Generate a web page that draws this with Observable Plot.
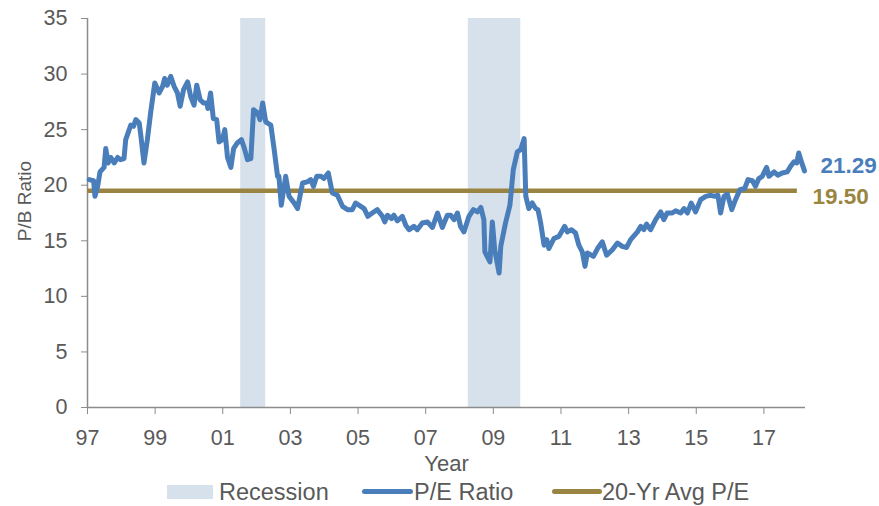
<!DOCTYPE html>
<html><head><meta charset="utf-8">
<script src="https://cdn.jsdelivr.net/npm/d3@7"></script>
<script src="https://cdn.jsdelivr.net/npm/@observablehq/plot@0.6"></script>
<style>
body{margin:0;background:#fff;font-family:"Liberation Sans",Arial,sans-serif;}
#legend{position:relative;width:879px;height:28px;color:#595959;font-size:23.5px;}
#legend span{position:absolute;}
.sw{top:7px;height:14px;}
.ln{top:11px;height:5px;border-radius:3px;}
.tx{top:0;line-height:28px;white-space:nowrap;}
</style></head><body>
<div id="chart"></div>
<div id="legend">
  <span class="sw" style="left:167px;width:46px;background:#d6e1eb"></span>
  <span class="tx" style="left:219px">Recession</span>
  <span class="ln" style="left:362px;width:51px;background:#4a7ebb"></span>
  <span class="tx" style="left:414px">P/E Ratio</span>
  <span class="ln" style="left:552px;width:50px;background:#998541"></span>
  <span class="tx" style="left:602px">20-Yr Avg P/E</span>
</div>
<script>
const years = [1997.05,1997.18,1997.22,1997.30,1997.37,1997.49,1997.54,1997.61,1997.69,1997.79,1997.89,1997.98,
1998.08,1998.13,1998.28,1998.36,1998.43,1998.53,1998.58,1998.67,1998.77,1998.87,1998.99,
1999.12,1999.22,1999.28,1999.36,1999.46,1999.56,1999.66,1999.74,1999.84,1999.96,
2000.05,2000.15,2000.23,2000.33,2000.43,2000.53,2000.56,2000.64,2000.72,2000.82,2000.89,2000.99,
2001.06,2001.14,2001.24,2001.32,2001.43,2001.55,2001.63,2001.73,2001.83,2001.91,
2002.03,2002.10,2002.18,2002.27,2002.42,2002.52,2002.62,2002.66,2002.73,2002.86,2002.96,
2003.11,2003.21,2003.36,2003.50,2003.60,2003.68,2003.78,2003.90,2003.99,
2004.12,2004.24,2004.39,2004.54,2004.69,2004.83,2004.93,
2005.08,2005.18,2005.29,2005.42,2005.57,2005.72,2005.79,2005.87,2005.99,
2006.06,2006.16,2006.31,2006.41,2006.51,2006.65,2006.75,2006.90,
2007.05,2007.20,2007.35,2007.49,2007.64,2007.74,2007.84,2007.94,
2008.03,2008.13,2008.28,2008.41,2008.53,2008.63,2008.72,2008.75,2008.90,2008.97,
2009.04,2009.17,2009.22,2009.36,2009.49,2009.59,2009.71,2009.81,2009.91,2009.96,
2010.05,2010.15,2010.25,2010.32,2010.40,2010.50,2010.58,2010.64,2010.79,2010.94,
2011.11,2011.19,2011.31,2011.43,2011.53,2011.63,2011.71,2011.78,2011.96,
2012.08,2012.22,2012.35,2012.52,2012.67,2012.81,2012.94,
2013.06,2013.26,2013.36,2013.45,2013.53,2013.65,2013.80,2013.95,
2014.04,2014.14,2014.29,2014.39,2014.54,2014.64,2014.74,2014.85,2014.98,
2015.13,2015.28,2015.42,2015.55,2015.64,2015.72,2015.82,2015.92,
2016.05,2016.16,2016.29,2016.43,2016.53,2016.66,2016.75,2016.85,2016.95,
2017.08,2017.15,2017.30,2017.41,2017.54,2017.69,2017.79,2017.89,2017.97,
2018.03,2018.11,2018.20];
const peRatio = [20.5,20.4,19.0,19.9,21.2,21.6,23.3,22.0,22.5,22.0,22.5,22.3,
22.4,24.1,25.4,25.3,25.9,25.6,24.4,22.0,24.1,26.6,29.2,
28.3,28.9,29.6,29.0,29.8,28.9,28.3,27.1,28.6,29.3,
28.0,27.2,29.0,27.7,27.4,27.4,26.9,28.3,26.0,25.9,23.9,24.1,
25.0,22.5,21.6,23.3,23.8,24.1,23.4,22.3,22.4,26.8,
26.5,25.9,27.4,25.7,25.4,23.2,20.8,20.8,18.2,20.8,19.0,
18.4,17.9,20.2,20.3,20.5,19.9,20.8,20.8,20.6,
21.1,19.3,19.1,18.1,17.8,17.8,18.4,
18.1,17.9,17.2,17.5,17.8,17.2,16.7,17.3,17.0,
17.3,16.8,17.2,16.4,16.0,16.3,16.0,16.6,
16.7,16.2,17.5,16.2,17.3,17.3,16.9,17.5,
16.3,15.8,17.2,17.8,17.6,18.0,16.9,14.0,13.1,16.7,
14.2,12.1,14.5,16.6,18.2,21.4,23.0,23.2,24.2,19.0,
17.9,18.4,17.9,17.8,16.6,14.6,15.1,14.3,15.2,15.4,
16.3,15.8,16.0,15.7,14.6,14.0,12.7,13.9,13.6,
14.3,14.9,13.7,14.2,14.8,14.5,14.4,
15.1,15.8,16.3,16.0,16.5,16.0,16.9,17.6,
16.9,17.5,17.5,17.7,17.5,17.9,17.5,18.4,17.6,
18.7,19.0,19.1,19.0,19.1,17.5,19.0,19.2,
17.8,18.7,19.6,19.7,20.5,20.4,19.9,20.6,20.8,
21.6,20.8,21.2,20.9,21.1,21.2,21.7,22.1,22.0,
22.9,22.1,21.29];
const recessionStarts = [2001.53, 2008.26];
const recessionEnds = [2002.27, 2009.81];
const avgPE = 19.50;
const avgStartYear = 1997.0;
const avgEndYear = 2017.99;
const xTicks = [1997,1999,2001,2003,2005,2007,2009,2011,2013,2015,2017];
const yTicks = [0,5,10,15,20,25,30,35];
const xLabel = "Year";
const yLabel = "P/B Ratio";

const blue = "#4a7ebb", gold = "#998541", axisGray = "#8c8c8c", textGray = "#595959";
const data = years.map((y, i) => ({year: y, pe: peRatio[i]}));
const recessions = recessionStarts.map((s, i) => ({x1: s, x2: recessionEnds[i]}));
const last = data[data.length - 1];
const fmt = d => String(d % 100).padStart(2, "0");

const chart = Plot.plot({
  width: 879, height: 478,
  marginLeft: 87, marginRight: 74, marginTop: 18, marginBottom: 71,
  x: {domain: [1997, 2018.23]},
  y: {domain: [0, 35]},
  style: {fontFamily: "'Liberation Sans', Arial, sans-serif", fontSize: "21.5px", color: textGray, background: "#fff"},
  marks: [
    Plot.rect(recessions, {x1: "x1", x2: "x2", fill: "#d6e1eb"}),
    Plot.ruleY([0], {stroke: axisGray, strokeWidth: 1.5}),
    Plot.ruleX([1997], {stroke: axisGray, strokeWidth: 1.5}),
    Plot.axisX({ticks: xTicks, tickFormat: fmt, tickSize: 7, tickPadding: 15, stroke: axisGray, label: null, fill: textGray}),
    Plot.axisY({ticks: yTicks, tickSize: 6, tickPadding: 14, stroke: axisGray, label: null, fill: textGray}),
    Plot.ruleY([avgPE], {x1: avgStartYear, x2: avgEndYear, stroke: gold, strokeWidth: 4.5}),
    Plot.line(data, {x: "year", y: "pe", stroke: blue, strokeWidth: 5, strokeLinejoin: "round", strokeLinecap: "round"}),
    Plot.text([last], {x: "year", y: "pe", text: d => d.pe.toFixed(2), dx: 16, dy: -5, textAnchor: "start", fill: blue, fontWeight: "bold", fontSize: 22.5}),
    Plot.text([avgPE], {x: avgEndYear, y: d => d, text: d => d.toFixed(2), dx: 15, dy: 6, textAnchor: "start", fill: gold, fontWeight: "bold", fontSize: 22.5}),
    Plot.text([xLabel], {frameAnchor: "bottom", dy: 56, lineAnchor: "middle", textAnchor: "middle", fill: textGray, fontSize: 22}),
    Plot.text([yLabel], {frameAnchor: "left", dx: -63, dy: -12, rotate: -90, textAnchor: "middle", lineAnchor: "middle", fill: textGray, fontSize: 19})
  ]
});
document.getElementById("chart").appendChild(chart);
</script>
</body></html>
